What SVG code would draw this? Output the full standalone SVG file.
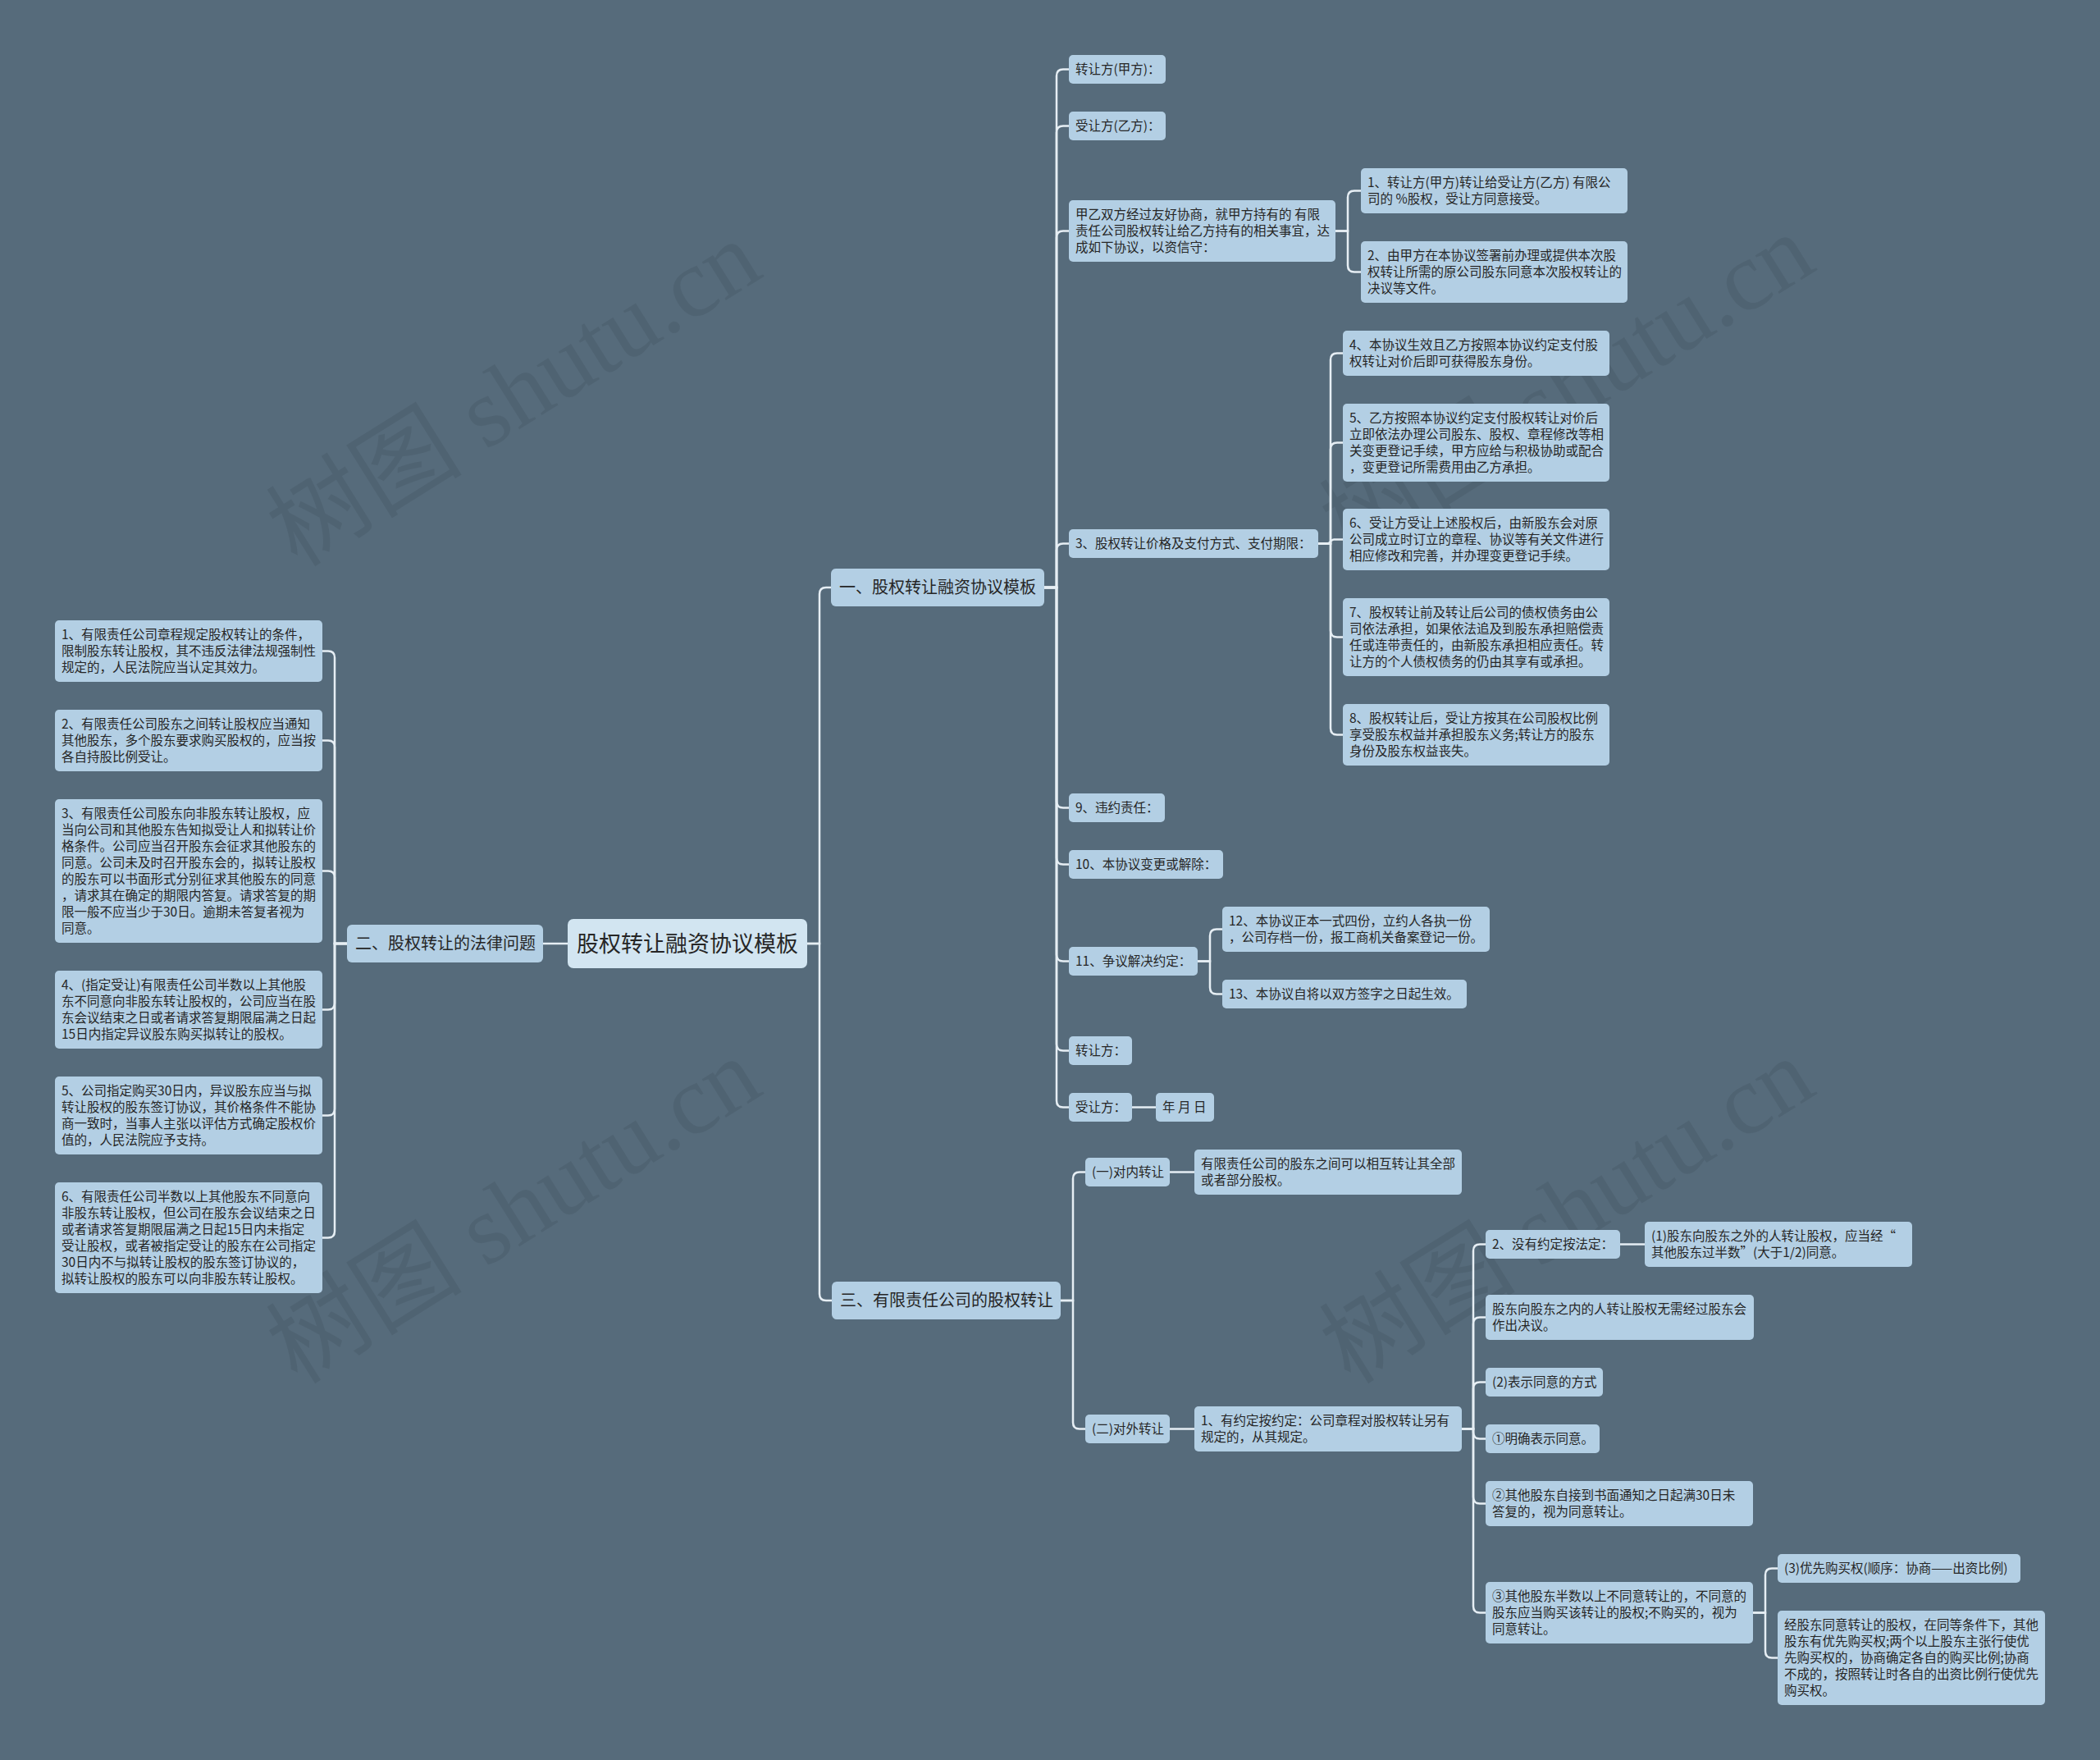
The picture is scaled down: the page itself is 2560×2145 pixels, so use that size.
<svg xmlns="http://www.w3.org/2000/svg" width="2560" height="2145" viewBox="0 0 2560 2145">
<style>
.bg{fill:#566b7b}
.wm{font-family:"Liberation Serif","Noto Sans CJK SC",serif;font-size:120px;fill:#000;fill-opacity:0.07}
.n rect{fill:#b3cfe4}
.n text{font-family:"Noto Sans CJK SC","Noto Sans",sans-serif;font-size:15.5px;fill:#262626}
.r rect{fill:#d2e5f1}
.r text{font-family:"Noto Sans CJK SC","Noto Sans",sans-serif;font-size:27px;fill:#262626}
.b rect{fill:#b3cfe4}
.b text{font-family:"Noto Sans CJK SC","Noto Sans",sans-serif;font-size:20px;fill:#262626}
.c path{fill:none;stroke:#e6eef4;stroke-width:2.5}
</style>
<rect class="bg" x="0" y="0" width="2560" height="2145"/>
<g id="watermarks">
<text class="wm" transform="translate(648,514) rotate(-32)" text-anchor="middle">树图 shutu.cn</text>
<text class="wm" transform="translate(648,1510) rotate(-32)" text-anchor="middle">树图 shutu.cn</text>
<text class="wm" transform="translate(1932,506) rotate(-32)" text-anchor="middle">树图 shutu.cn</text>
<text class="wm" transform="translate(1932,1510) rotate(-32)" text-anchor="middle">树图 shutu.cn</text>
</g>
<g id="connectors" class="c">
<path d="M984,1150 H999 V724 Q999,716 1007,716 H1013"/>
<path d="M984,1150 H999 V1577 Q999,1585 1007,1585 H1014"/>
<path d="M692,1150 H662"/>
<path d="M423,1150 H408 V801.5 Q408,793.5 400,793.5 H393"/>
<path d="M423,1150 H408 V910.5 Q408,902.5 400,902.5 H393"/>
<path d="M423,1150 H408 V1069.5 Q408,1061.5 400,1061.5 H393"/>
<path d="M423,1150 H408 V1222.5 Q408,1230.5 400,1230.5 H393"/>
<path d="M423,1150 H408 V1351.5 Q408,1359.5 400,1359.5 H393"/>
<path d="M423,1150 H408 V1500.5 Q408,1508.5 400,1508.5 H393"/>
<path d="M1273,716 H1288 V92.5 Q1288,84.5 1296,84.5 H1303"/>
<path d="M1273,716 H1288 V161.5 Q1288,153.5 1296,153.5 H1303"/>
<path d="M1273,716 H1288 V289.5 Q1288,281.5 1296,281.5 H1303"/>
<path d="M1273,716 H1288 V670.5 Q1288,662.5 1296,662.5 H1303"/>
<path d="M1273,716 H1288 V976.5 Q1288,984.5 1296,984.5 H1303"/>
<path d="M1273,716 H1288 V1045.5 Q1288,1053.5 1296,1053.5 H1303"/>
<path d="M1273,716 H1288 V1163.5 Q1288,1171.5 1296,1171.5 H1303"/>
<path d="M1273,716 H1288 V1272.5 Q1288,1280.5 1296,1280.5 H1303"/>
<path d="M1273,716 H1288 V1341.5 Q1288,1349.5 1296,1349.5 H1303"/>
<path d="M1628,281.5 H1643 V240.5 Q1643,232.5 1651,232.5 H1659"/>
<path d="M1628,281.5 H1643 V323.5 Q1643,331.5 1651,331.5 H1659"/>
<path d="M1607,662.5 H1622 V438.5 Q1622,430.5 1630,430.5 H1637"/>
<path d="M1607,662.5 H1622 V547.5 Q1622,539.5 1630,539.5 H1637"/>
<path d="M1607,662.5 H1618 C1622,662.5 1622,657.5 1626,657.5 H1637"/>
<path d="M1607,662.5 H1622 V768.5 Q1622,776.5 1630,776.5 H1637"/>
<path d="M1607,662.5 H1622 V887.5 Q1622,895.5 1630,895.5 H1637"/>
<path d="M1460,1171.5 H1475 V1140.5 Q1475,1132.5 1483,1132.5 H1490"/>
<path d="M1460,1171.5 H1475 V1203.5 Q1475,1211.5 1483,1211.5 H1490"/>
<path d="M1380,1349.5 H1409"/>
<path d="M1293,1585 H1308 V1436.5 Q1308,1428.5 1316,1428.5 H1323"/>
<path d="M1293,1585 H1308 V1733.5 Q1308,1741.5 1316,1741.5 H1323"/>
<path d="M1426,1428.5 H1456"/>
<path d="M1426,1741.5 H1456"/>
<path d="M1782,1741.5 H1796 V1524.5 Q1796,1516.5 1804,1516.5 H1811"/>
<path d="M1782,1741.5 H1796 V1613.5 Q1796,1605.5 1804,1605.5 H1811"/>
<path d="M1782,1741.5 H1796 V1692.5 Q1796,1684.5 1804,1684.5 H1811"/>
<path d="M1782,1741.5 H1796 V1745.5 Q1796,1753.5 1804,1753.5 H1811"/>
<path d="M1782,1741.5 H1796 V1824.5 Q1796,1832.5 1804,1832.5 H1811"/>
<path d="M1782,1741.5 H1796 V1957.5 Q1796,1965.5 1804,1965.5 H1811"/>
<path d="M1975,1516.5 H2005"/>
<path d="M2137,1965.5 H2152 V1919.5 Q2152,1911.5 2160,1911.5 H2167"/>
<path d="M2137,1965.5 H2152 V2012.5 Q2152,2020.5 2160,2020.5 H2167"/>
</g>
<g id="root" class="r"><rect x="692" y="1120" width="292" height="60" rx="7"/><text x="703" y="1159.5">股权转让融资协议模板</text></g>
<g id="b1" class="b"><rect x="1013" y="693" width="260" height="46" rx="6"/><text x="1023" y="723">一、股权转让融资协议模板</text></g>
<g id="b2" class="b"><rect x="423" y="1127" width="239" height="46" rx="6"/><text x="433" y="1157">二、股权转让的法律问题</text></g>
<g id="b3" class="b"><rect x="1014" y="1562" width="279" height="46" rx="6"/><text x="1024" y="1592">三、有限责任公司的股权转让</text></g>

<g id="l1" class="n"><rect x="67" y="756" width="326" height="75" rx="5"/><text x="75" y="779"><tspan x="75">1、有限责任公司章程规定股权转让的条件，</tspan><tspan x="75" dy="20">限制股东转让股权，其不违反法律法规强制性</tspan><tspan x="75" dy="20">规定的，人民法院应当认定其效力。</tspan></text></g>
<g id="l2" class="n"><rect x="67" y="865" width="326" height="75" rx="5"/><text x="75" y="888"><tspan x="75">2、有限责任公司股东之间转让股权应当通知</tspan><tspan x="75" dy="20">其他股东，多个股东要求购买股权的，应当按</tspan><tspan x="75" dy="20">各自持股比例受让。</tspan></text></g>
<g id="l3" class="n"><rect x="67" y="974" width="326" height="175" rx="5"/><text x="75" y="997"><tspan x="75">3、有限责任公司股东向非股东转让股权，应</tspan><tspan x="75" dy="20">当向公司和其他股东告知拟受让人和拟转让价</tspan><tspan x="75" dy="20">格条件。公司应当召开股东会征求其他股东的</tspan><tspan x="75" dy="20">同意。公司未及时召开股东会的，拟转让股权</tspan><tspan x="75" dy="20">的股东可以书面形式分别征求其他股东的同意</tspan><tspan x="75" dy="20">，请求其在确定的期限内答复。请求答复的期</tspan><tspan x="75" dy="20">限一般不应当少于30日。逾期未答复者视为</tspan><tspan x="75" dy="20">同意。</tspan></text></g>
<g id="l4" class="n"><rect x="67" y="1183" width="326" height="95" rx="5"/><text x="75" y="1206"><tspan x="75">4、(指定受让)有限责任公司半数以上其他股</tspan><tspan x="75" dy="20">东不同意向非股东转让股权的，公司应当在股</tspan><tspan x="75" dy="20">东会议结束之日或者请求答复期限届满之日起</tspan><tspan x="75" dy="20">15日内指定异议股东购买拟转让的股权。</tspan></text></g>
<g id="l5" class="n"><rect x="67" y="1312" width="326" height="95" rx="5"/><text x="75" y="1335"><tspan x="75">5、公司指定购买30日内，异议股东应当与拟</tspan><tspan x="75" dy="20">转让股权的股东签订协议，其价格条件不能协</tspan><tspan x="75" dy="20">商一致时，当事人主张以评估方式确定股权价</tspan><tspan x="75" dy="20">值的，人民法院应予支持。</tspan></text></g>
<g id="l6" class="n"><rect x="67" y="1441" width="326" height="135" rx="5"/><text x="75" y="1464"><tspan x="75">6、有限责任公司半数以上其他股东不同意向</tspan><tspan x="75" dy="20">非股东转让股权，但公司在股东会议结束之日</tspan><tspan x="75" dy="20">或者请求答复期限届满之日起15日内未指定</tspan><tspan x="75" dy="20">受让股权，或者被指定受让的股东在公司指定</tspan><tspan x="75" dy="20">30日内不与拟转让股权的股东签订协议的，</tspan><tspan x="75" dy="20">拟转让股权的股东可以向非股东转让股权。</tspan></text></g>

<g id="a1" class="n"><rect x="1303" y="67" width="118" height="35" rx="5"/><text x="1311" y="90">转让方(甲方)：</text></g>
<g id="a2" class="n"><rect x="1303" y="136" width="118" height="35" rx="5"/><text x="1311" y="159">受让方(乙方)：</text></g>
<g id="a3" class="n"><rect x="1303" y="244" width="325" height="75" rx="5"/><text x="1311" y="267"><tspan x="1311">甲乙双方经过友好协商，就甲方持有的 有限</tspan><tspan x="1311" dy="20">责任公司股权转让给乙方持有的相关事宜，达</tspan><tspan x="1311" dy="20">成如下协议，以资信守：</tspan></text></g>
<g id="a3a" class="n"><rect x="1659" y="205" width="325" height="55" rx="5"/><text x="1667" y="228"><tspan x="1667">1、转让方(甲方)转让给受让方(乙方) 有限公</tspan><tspan x="1667" dy="20">司的 %股权，受让方同意接受。</tspan></text></g>
<g id="a3b" class="n"><rect x="1659" y="294" width="325" height="75" rx="5"/><text x="1667" y="317"><tspan x="1667">2、由甲方在本协议签署前办理或提供本次股</tspan><tspan x="1667" dy="20">权转让所需的原公司股东同意本次股权转让的</tspan><tspan x="1667" dy="20">决议等文件。</tspan></text></g>
<g id="a4" class="n"><rect x="1303" y="645" width="304" height="35" rx="5"/><text x="1311" y="668">3、股权转让价格及支付方式、支付期限：</text></g>
<g id="a4a" class="n"><rect x="1637" y="403" width="325" height="55" rx="5"/><text x="1645" y="426"><tspan x="1645">4、本协议生效且乙方按照本协议约定支付股</tspan><tspan x="1645" dy="20">权转让对价后即可获得股东身份。</tspan></text></g>
<g id="a4b" class="n"><rect x="1637" y="492" width="325" height="95" rx="5"/><text x="1645" y="515"><tspan x="1645">5、乙方按照本协议约定支付股权转让对价后</tspan><tspan x="1645" dy="20">立即依法办理公司股东、股权、章程修改等相</tspan><tspan x="1645" dy="20">关变更登记手续，甲方应给与积极协助或配合</tspan><tspan x="1645" dy="20">，变更登记所需费用由乙方承担。</tspan></text></g>
<g id="a4c" class="n"><rect x="1637" y="620" width="325" height="75" rx="5"/><text x="1645" y="643"><tspan x="1645">6、受让方受让上述股权后，由新股东会对原</tspan><tspan x="1645" dy="20">公司成立时订立的章程、协议等有关文件进行</tspan><tspan x="1645" dy="20">相应修改和完善，并办理变更登记手续。</tspan></text></g>
<g id="a4d" class="n"><rect x="1637" y="729" width="325" height="95" rx="5"/><text x="1645" y="752"><tspan x="1645">7、股权转让前及转让后公司的债权债务由公</tspan><tspan x="1645" dy="20">司依法承担，如果依法追及到股东承担赔偿责</tspan><tspan x="1645" dy="20">任或连带责任的，由新股东承担相应责任。转</tspan><tspan x="1645" dy="20">让方的个人债权债务的仍由其享有或承担。</tspan></text></g>
<g id="a4e" class="n"><rect x="1637" y="858" width="325" height="75" rx="5"/><text x="1645" y="881"><tspan x="1645">8、股权转让后，受让方按其在公司股权比例</tspan><tspan x="1645" dy="20">享受股东权益并承担股东义务;转让方的股东</tspan><tspan x="1645" dy="20">身份及股东权益丧失。</tspan></text></g>
<g id="a5" class="n"><rect x="1303" y="967" width="117" height="35" rx="5"/><text x="1311" y="990">9、违约责任：</text></g>
<g id="a6" class="n"><rect x="1303" y="1036" width="188" height="35" rx="5"/><text x="1311" y="1059">10、本协议变更或解除：</text></g>
<g id="a7" class="n"><rect x="1303" y="1154" width="157" height="35" rx="5"/><text x="1311" y="1177">11、争议解决约定：</text></g>
<g id="a7a" class="n"><rect x="1490" y="1105" width="326" height="55" rx="5"/><text x="1498" y="1128"><tspan x="1498">12、本协议正本一式四份，立约人各执一份</tspan><tspan x="1498" dy="20">，公司存档一份，报工商机关备案登记一份。</tspan></text></g>
<g id="a7b" class="n"><rect x="1490" y="1194" width="298" height="35" rx="5"/><text x="1498" y="1217">13、本协议自将以双方签字之日起生效。</text></g>
<g id="a8" class="n"><rect x="1303" y="1263" width="77" height="35" rx="5"/><text x="1311" y="1286">转让方：</text></g>
<g id="a9" class="n"><rect x="1303" y="1332" width="77" height="35" rx="5"/><text x="1311" y="1355">受让方：</text></g>
<g id="a9a" class="n"><rect x="1409" y="1332" width="71" height="35" rx="5"/><text x="1417" y="1355">年 月 日</text></g>

<g id="c1" class="n"><rect x="1323" y="1411" width="103" height="35" rx="5"/><text x="1331" y="1434">(一)对内转让</text></g>
<g id="c1a" class="n"><rect x="1456" y="1401" width="326" height="55" rx="5"/><text x="1464" y="1424"><tspan x="1464">有限责任公司的股东之间可以相互转让其全部</tspan><tspan x="1464" dy="20">或者部分股权。</tspan></text></g>
<g id="c2" class="n"><rect x="1323" y="1724" width="103" height="35" rx="5"/><text x="1331" y="1747">(二)对外转让</text></g>
<g id="c2a" class="n"><rect x="1456" y="1714" width="326" height="55" rx="5"/><text x="1464" y="1737"><tspan x="1464">1、有约定按约定：公司章程对股权转让另有</tspan><tspan x="1464" dy="20">规定的，从其规定。</tspan></text></g>
<g id="d1" class="n"><rect x="1811" y="1499" width="164" height="35" rx="5"/><text x="1819" y="1522">2、没有约定按法定：</text></g>
<g id="d1a" class="n"><rect x="2005" y="1489" width="326" height="55" rx="5"/><text x="2013" y="1512"><tspan x="2013">(1)股东向股东之外的人转让股权，应当经“</tspan><tspan x="2013" dy="20">其他股东过半数”(大于1/2)同意。</tspan></text></g>
<g id="d2" class="n"><rect x="1811" y="1578" width="327" height="55" rx="5"/><text x="1819" y="1601"><tspan x="1819">股东向股东之内的人转让股权无需经过股东会</tspan><tspan x="1819" dy="20">作出决议。</tspan></text></g>
<g id="d3" class="n"><rect x="1811" y="1667" width="143" height="35" rx="5"/><text x="1819" y="1690">(2)表示同意的方式</text></g>
<g id="d4" class="n"><rect x="1811" y="1736" width="139" height="35" rx="5"/><text x="1819" y="1759">①明确表示同意。</text></g>
<g id="d5" class="n"><rect x="1811" y="1805" width="326" height="55" rx="5"/><text x="1819" y="1828"><tspan x="1819">②其他股东自接到书面通知之日起满30日未</tspan><tspan x="1819" dy="20">答复的，视为同意转让。</tspan></text></g>
<g id="d6" class="n"><rect x="1811" y="1928" width="326" height="75" rx="5"/><text x="1819" y="1951"><tspan x="1819">③其他股东半数以上不同意转让的，不同意的</tspan><tspan x="1819" dy="20">股东应当购买该转让的股权;不购买的，视为</tspan><tspan x="1819" dy="20">同意转让。</tspan></text></g>
<g id="e1" class="n"><rect x="2167" y="1894" width="296" height="35" rx="5"/><text x="2175" y="1917">(3)优先购买权(顺序：协商——出资比例)</text></g>
<g id="e2" class="n"><rect x="2167" y="1963" width="326" height="115" rx="5"/><text x="2175" y="1986"><tspan x="2175">经股东同意转让的股权，在同等条件下，其他</tspan><tspan x="2175" dy="20">股东有优先购买权;两个以上股东主张行使优</tspan><tspan x="2175" dy="20">先购买权的，协商确定各自的购买比例;协商</tspan><tspan x="2175" dy="20">不成的，按照转让时各自的出资比例行使优先</tspan><tspan x="2175" dy="20">购买权。</tspan></text></g>
</svg>
